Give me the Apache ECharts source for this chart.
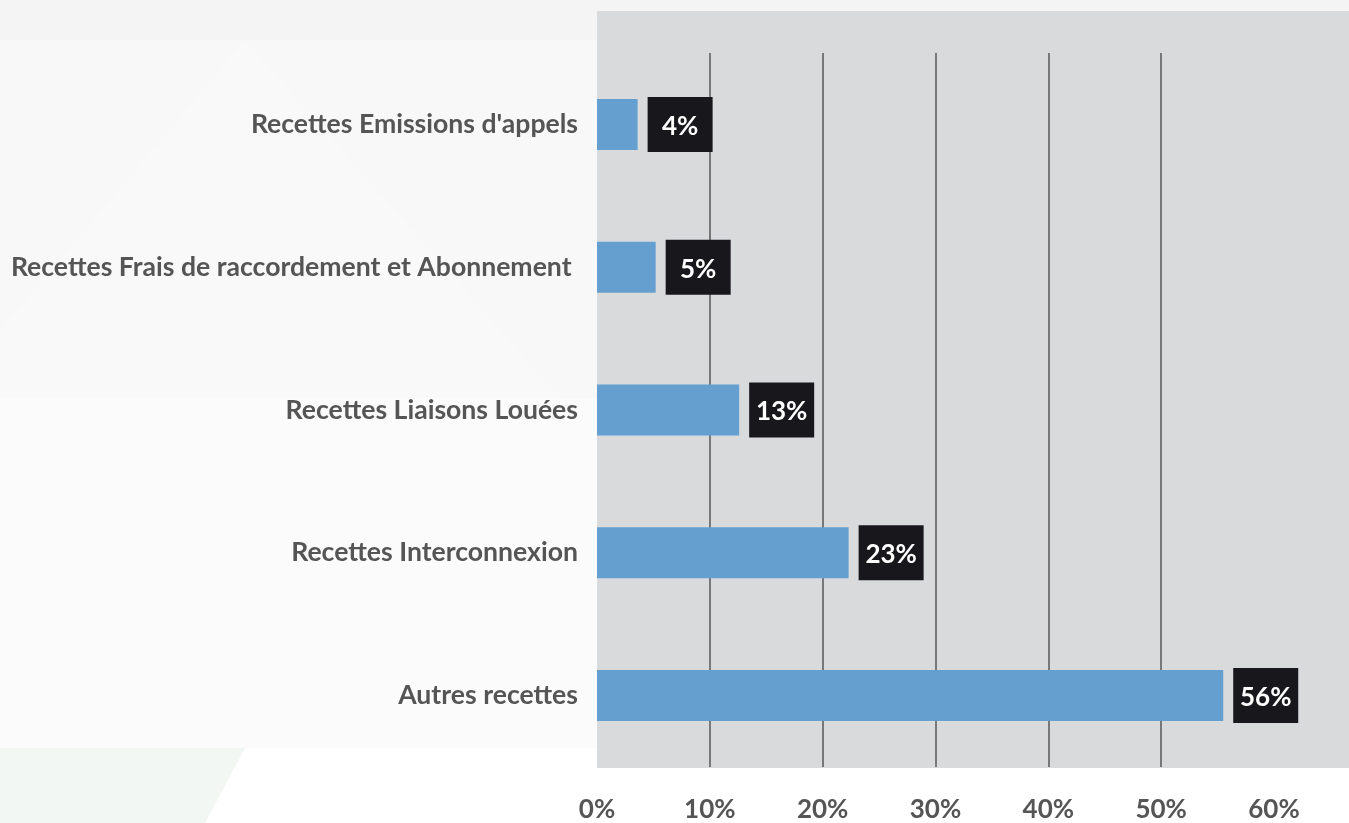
<!DOCTYPE html>
<html>
<head>
<meta charset="utf-8">
<script src="https://cdn.jsdelivr.net/npm/echarts@6/dist/echarts.min.js"></script>
<style>
html,body{margin:0;padding:0;background:#fcfcfc;}
#chart{width:1349px;height:823px;}
</style>
</head>
<body>
<div id="chart"></div>
<script>
var categories = ["Recettes Emissions d'appels", "Recettes Frais de raccordement et Abonnement ", "Recettes Liaisons Louées", "Recettes Interconnexion", "Autres recettes"];
var values = [3.6, 5.2, 12.6, 22.3, 55.5];
var valueLabels = ["4%", "5%", "13%", "23%", "56%"];
var tickLabels = ["0%", "10%", "20%", "30%", "40%", "50%", "60%"];

var chart = echarts.init(document.getElementById('chart'));
chart.setOption({
  backgroundColor: '#fbfbfb',
  animation: false,
  graphic: [
    {type:'rect', z:-10, silent:true, shape:{x:0,y:0,width:1349,height:40}, style:{fill:'#f4f4f4'}},
    {type:'rect', z:-10, silent:true, shape:{x:0,y:40,width:597,height:358}, style:{fill:'#f8f8f8'}},
    {type:'polygon', z:-9, silent:true, shape:{points:[[245,40],[560,398],[0,398],[0,330]]}, style:{fill:'#f9f9f9'}},
    {type:'rect', z:-10, silent:true, shape:{x:0,y:398,width:597,height:350}, style:{fill:'#fbfbfb'}},
    {type:'rect', z:-10, silent:true, shape:{x:0,y:748,width:1349,height:75}, style:{fill:'#ffffff'}},
    {type:'polygon', z:-9, silent:true, shape:{points:[[0,748],[245,748],[205,823],[0,823]]}, style:{fill:'#f3f7f4'}},
    {type:'rect', z:-8, silent:true, shape:{x:597,y:11,width:752,height:757}, style:{fill:'#d9dadc'}}
  ],
  grid: {left:597, right:75, top:53, bottom:56, containLabel:false, outerBoundsMode:'none'},
  xAxis: {
    type:'value', min:0, max:60, interval:10,
    axisLine:{show:false}, axisTick:{show:false},
    splitLine:{show:true, showMinLine:false, showMaxLine:false, lineStyle:{color:'#77787a', width:2}},
    axisLabel:{
      margin:30, fontFamily:'Lato', fontWeight:'bold', fontSize:26, color:'#555555',
      formatter:function(v){ return tickLabels[Math.round(v/10)]; }
    }
  },
  yAxis: {
    type:'category', data:categories, inverse:true,
    axisLine:{show:false}, axisTick:{show:false}, splitLine:{show:false},
    axisLabel:{margin:19, fontFamily:'Lato', fontWeight:'bold', fontSize:26.6, color:'#555555'}
  },
  series: [{
    type:'bar', data:values, barWidth:51,
    itemStyle:{color:'#659fcf'},
    label:{
      show:true, position:'right', distance:10, align:'left',
      formatter:function(p){ return '{b|' + valueLabels[p.dataIndex] + '}'; },
      rich:{
        b:{
          backgroundColor:'#18171c', color:'#ffffff',
          fontFamily:'Lato', fontWeight:'bold', fontSize:26,
          width:65, height:51, lineHeight:51, align:'center', padding:[4,0,0,0]
        }
      }
    }
  }]
});
</script>
</body>
</html>
